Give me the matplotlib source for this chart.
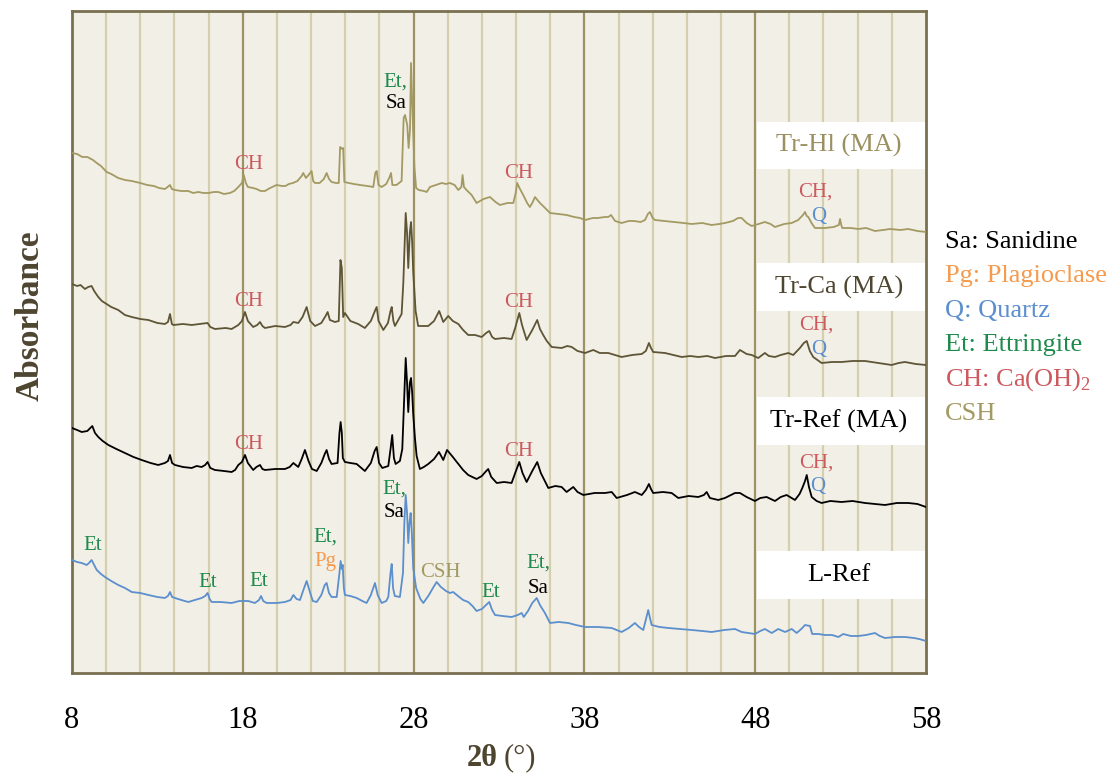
import matplotlib.pyplot as plt
from matplotlib.patches import Rectangle

plt.rcParams['font.family'] = ['Liberation Serif', 'DejaVu Serif']
plt.rcParams['mathtext.fontset'] = 'custom'
plt.rcParams['mathtext.rm'] = 'Liberation Serif'

# -- DATA: (2theta in degrees, stacked absorbance in a.u.)
hl_pts = [(8.0, 520), (8.3, 519), (8.6, 516), (8.9, 516), (9.23, 513), (9.45, 510), (9.7, 507), (10.03, 501),
          (10.3, 499), (10.71, 495), (11.1, 493), (11.5, 492), (12.0, 490), (12.4, 488), (12.8, 487),
          (13.1, 485), (13.44, 484), (13.6, 486), (13.74, 488), (13.85, 484), (14.03, 483), (14.4, 482),
          (14.8, 482), (15.1, 480), (15.39, 481), (15.7, 480), (16.0, 480), (16.3, 481), (16.57, 481),
          (16.9, 479), (17.25, 480), (17.5, 482), (17.74, 486), (17.95, 490), (18.06, 498), (18.18, 490),
          (18.3, 486), (18.6, 485), (18.8, 484), (19.05, 482), (19.3, 482), (19.6, 485), (19.98, 488),
          (20.3, 487), (20.5, 487), (20.7, 489), (20.94, 490), (21.2, 492), (21.45, 497), (21.54, 500),
          (21.7, 495), (21.85, 498), (22.03, 502), (22.12, 492), (22.23, 490), (22.5, 490), (22.75, 494),
          (22.91, 500), (23.05, 494), (23.2, 491), (23.45, 490), (23.62, 490), (23.7, 526), (23.82, 524),
          (23.88, 525), (23.95, 491), (24.2, 490), (24.5, 489), (24.86, 488), (25.3, 487), (25.64, 486),
          (25.76, 500), (25.84, 502), (25.95, 488), (26.13, 486), (26.4, 489), (26.6, 496), (26.68, 500),
          (26.76, 488), (27.0, 488), (27.3, 492), (27.42, 555), (27.5, 558), (27.63, 548), (27.71, 525),
          (27.79, 543), (27.85, 610), (27.92, 570), (27.98, 540), (28.05, 506), (28.15, 485), (28.3, 483),
          (28.6, 482), (28.77, 481), (28.96, 486), (29.3, 488), (29.65, 490), (29.9, 489), (30.13, 490),
          (30.4, 488), (30.62, 483), (30.8, 486), (30.87, 498), (30.95, 486), (31.1, 483), (31.4, 478),
          (31.69, 470), (32.1, 474), (32.47, 476), (32.8, 471), (33.06, 468), (33.5, 470), (33.84, 470),
          (33.98, 480), (34.07, 490), (34.2, 485), (34.42, 478), (34.65, 470), (34.81, 466), (34.95, 470),
          (35.11, 476), (35.25, 473), (35.4, 470), (35.7, 465), (35.99, 460), (36.5, 459), (36.96, 458),
          (37.4, 456), (37.74, 455), (38.04, 453), (38.5, 455), (38.8, 455), (39.2, 456), (39.4, 456),
          (39.56, 458), (39.8, 452), (40.18, 450), (40.6, 452), (40.9, 452), (41.3, 451), (41.55, 453),
          (41.72, 459), (41.84, 461), (42.0, 455), (42.13, 453), (42.7, 452), (43.3, 451), (43.8, 450),
          (44.28, 449), (44.9, 450), (45.45, 448), (45.9, 449), (46.23, 450), (46.7, 452), (47.0, 455),
          (47.21, 455), (47.5, 450), (47.8, 447), (48.2, 449), (48.57, 451), (48.9, 449), (49.16, 446),
          (49.7, 449), (50.14, 450), (50.52, 453), (50.8, 458), (50.92, 461), (51.02, 457), (51.11, 456),
          (51.3, 450), (51.5, 445), (52.09, 445), (52.6, 446), (52.9, 448), (52.97, 454), (53.04, 448),
          (53.1, 445), (53.6, 445), (54.04, 444), (54.5, 445), (55.01, 442), (55.5, 443), (55.9, 444),
          (56.5, 443), (56.96, 444), (57.5, 442), (58.0, 441)]

ca_pts = [(8.0, 389), (8.3, 387), (8.5, 388), (8.76, 384), (8.95, 386), (9.15, 387), (9.3, 382), (9.54, 376),
          (9.75, 372), (9.93, 370), (10.3, 366), (10.71, 363), (11.1, 358), (11.5, 356), (12.0, 354),
          (12.47, 353), (13.0, 350), (13.44, 349), (13.62, 351), (13.74, 359), (13.85, 349), (13.94, 348),
          (14.5, 349), (15.01, 348), (15.5, 349), (15.94, 350), (16.1, 346), (16.37, 344), (17.0, 345),
          (17.35, 344), (17.74, 348), (17.95, 352), (18.13, 361), (18.3, 352), (18.61, 346), (18.85, 348),
          (19.01, 351), (19.15, 347), (19.3, 345), (19.9, 347), (20.47, 346), (20.8, 348), (20.96, 351),
          (21.25, 350), (21.5, 356), (21.74, 366), (21.95, 352), (22.23, 347), (22.6, 350), (22.85, 357),
          (22.97, 361), (23.1, 353), (23.4, 351), (23.62, 352), (23.72, 413), (23.8, 405), (23.88, 356),
          (23.98, 360), (24.3, 352), (24.76, 349), (25.15, 345), (25.5, 352), (25.76, 363), (25.84, 366),
          (25.95, 352), (26.23, 343), (26.5, 350), (26.65, 362), (26.72, 366), (26.82, 352), (26.91, 347),
          (27.3, 359), (27.4, 390), (27.54, 460), (27.62, 440), (27.69, 405), (27.78, 440), (27.85, 451),
          (27.92, 430), (27.98, 401), (28.12, 362), (28.27, 347), (28.6, 347), (28.86, 347), (29.2, 352),
          (29.5, 362), (29.74, 351), (30.03, 357), (30.3, 352), (30.62, 349), (30.9, 343), (31.2, 338),
          (31.6, 338), (31.99, 336), (32.25, 340), (32.43, 342), (32.6, 336), (32.77, 334), (33.3, 335),
          (33.74, 334), (33.95, 345), (34.19, 360), (34.35, 348), (34.62, 333), (34.95, 343), (35.24, 353),
          (35.4, 344), (35.59, 338), (35.8, 332), (36.09, 326), (36.67, 325), (37.0, 327), (37.26, 326),
          (37.6, 322), (38.04, 320), (38.52, 323), (38.9, 320), (39.4, 320), (39.8, 318), (40.18, 316),
          (40.8, 318), (41.36, 319), (41.6, 322), (41.78, 330), (41.9, 325), (42.03, 321), (42.72, 320),
          (43.2, 318), (43.7, 316), (44.2, 317), (44.67, 316), (45.2, 317), (45.65, 315), (46.3, 317),
          (46.82, 317), (47.11, 323), (47.5, 319), (47.8, 318), (48.18, 315), (48.57, 320), (48.8, 317),
          (49.16, 316), (49.5, 318), (49.94, 320), (50.23, 318), (50.62, 325), (50.85, 330), (51.02, 332),
          (51.2, 322), (51.4, 316), (51.89, 310), (52.5, 311), (53.06, 311), (53.7, 312), (54.43, 312),
          (55.2, 310), (55.99, 308), (56.4, 310), (56.77, 311), (57.4, 309), (58.0, 308)]

ref_pts = [(8.0, 245), (8.3, 243), (8.57, 241), (8.9, 242), (9.19, 247), (9.35, 240), (9.54, 236), (9.8, 232),
           (10.13, 228), (10.6, 224), (11.1, 220), (11.6, 216), (12.08, 213), (12.6, 210), (13.05, 208),
           (13.44, 210), (13.62, 212), (13.74, 218), (13.86, 210), (14.03, 208), (14.5, 206), (15.01, 205),
           (15.3, 207), (15.59, 206), (15.8, 208), (15.94, 211), (16.1, 205), (16.37, 203), (16.9, 202),
           (17.35, 201), (17.55, 203), (17.74, 208), (17.95, 211), (18.13, 218), (18.3, 210), (18.61, 203),
           (18.8, 206), (19.01, 208), (19.15, 204), (19.3, 203), (19.9, 204), (20.47, 204), (20.75, 206),
           (20.96, 210), (21.25, 206), (21.45, 214), (21.64, 223), (21.85, 212), (22.05, 204), (22.33, 202),
           (22.6, 210), (22.8, 219), (22.91, 223), (23.05, 214), (23.2, 209), (23.55, 210), (23.66, 240),
           (23.73, 251), (23.8, 240), (23.86, 215), (23.98, 211), (24.3, 210), (24.67, 209), (25.15, 202),
           (25.5, 210), (25.72, 222), (25.84, 226), (25.98, 210), (26.17, 205), (26.52, 207), (26.66, 225),
           (26.75, 238), (26.85, 215), (26.95, 209), (27.2, 212), (27.34, 224), (27.44, 270), (27.54, 315),
           (27.62, 290), (27.69, 261), (27.78, 290), (27.85, 295), (27.92, 280), (27.98, 259), (28.08, 235),
           (28.18, 217), (28.37, 204), (28.6, 206), (28.86, 209), (29.2, 214), (29.49, 221), (29.74, 213),
           (29.96, 223), (30.3, 216), (30.62, 209), (30.9, 203), (31.2, 198), (31.45, 196), (31.69, 194),
           (32.0, 197), (32.2, 201), (32.37, 204), (32.55, 196), (32.87, 190), (33.3, 191), (33.74, 190),
           (33.95, 200), (34.19, 211), (34.38, 200), (34.62, 191), (34.95, 202), (35.24, 211), (35.45, 200),
           (35.89, 185), (36.3, 187), (36.67, 186), (36.96, 181), (37.35, 186), (37.6, 181), (37.94, 178),
           (38.6, 180), (39.21, 180), (39.6, 181), (39.89, 175), (40.5, 178), (40.96, 181), (41.36, 178),
           (41.6, 183), (41.78, 189), (41.9, 184), (42.03, 180), (42.6, 181), (43.11, 180), (43.5, 175),
           (44.1, 177), (44.67, 176), (45.0, 178), (45.16, 181), (45.35, 175), (45.84, 173), (46.23, 175),
           (46.82, 180), (47.11, 180), (47.5, 176), (47.99, 172), (48.3, 175), (48.67, 176), (49.16, 172),
           (49.5, 176), (49.84, 178), (50.33, 173), (50.6, 179), (50.76, 185), (50.92, 192), (51.02, 198),
           (51.15, 186), (51.31, 176), (51.6, 172), (51.89, 170), (52.4, 172), (53.06, 171), (53.7, 172),
           (54.43, 170), (55.0, 169), (55.6, 168), (56.3, 170), (56.96, 170), (57.5, 169), (58.0, 166)]

lref_pts = [(8.0, 113), (8.3, 111), (8.57, 110), (8.86, 108), (9.0, 110), (9.15, 113), (9.3, 108), (9.45, 103),
            (9.7, 99), (9.93, 96), (10.3, 92), (10.71, 88), (11.1, 85), (11.5, 81), (12.0, 80), (12.47, 78),
            (13.0, 76), (13.44, 75), (13.62, 77), (13.74, 81), (13.86, 76), (14.03, 75), (14.4, 73),
            (14.81, 71), (15.2, 73), (15.59, 75), (15.8, 77), (15.94, 80), (16.06, 74), (16.18, 71),
            (16.7, 71), (17.35, 70), (17.8, 72), (18.32, 72), (18.71, 70), (18.95, 73), (19.07, 77),
            (19.2, 72), (19.4, 70), (20.0, 70), (20.47, 71), (20.8, 73), (20.96, 78), (21.15, 74),
            (21.35, 73), (21.55, 83), (21.74, 92), (21.95, 80), (22.1, 72), (22.33, 71), (22.6, 78),
            (22.8, 88), (22.91, 90), (23.05, 80), (23.2, 76), (23.5, 76), (23.66, 100), (23.73, 112),
            (23.8, 104), (23.85, 108), (23.92, 85), (23.98, 78), (24.3, 77), (24.67, 75), (25.0, 72),
            (25.25, 70), (25.5, 78), (25.74, 90), (25.9, 78), (26.13, 70), (26.4, 72), (26.52, 76),
            (26.65, 100), (26.72, 109), (26.8, 85), (26.9, 77), (27.2, 76), (27.38, 100), (27.46, 150),
            (27.54, 178), (27.62, 160), (27.69, 130), (27.76, 150), (27.83, 160), (27.9, 140), (27.98, 105),
            (28.15, 85), (28.4, 74), (28.57, 70), (28.9, 78), (29.1, 84), (29.35, 91), (29.6, 86),
            (29.9, 82), (30.13, 80), (30.32, 81), (30.6, 77), (30.9, 73), (31.2, 71), (31.45, 67),
            (31.69, 62), (32.0, 64), (32.25, 68), (32.43, 71), (32.6, 63), (32.77, 58), (33.2, 57),
            (33.74, 56), (34.1, 58), (34.33, 60), (34.45, 56), (34.7, 62), (34.95, 70), (35.21, 75),
            (35.4, 68), (35.69, 60), (35.99, 50), (36.5, 51), (37.06, 50), (37.5, 48), (38.04, 46),
            (38.8, 46), (39.6, 45), (40.18, 41), (40.6, 45), (40.96, 50), (41.2, 46), (41.45, 43),
            (41.62, 55), (41.74, 63), (41.84, 55), (41.94, 48), (42.4, 46), (42.91, 45), (43.6, 44),
            (44.28, 43), (44.9, 42), (45.45, 41), (46.2, 43), (46.82, 44), (47.21, 41), (47.6, 40),
            (47.99, 39), (48.3, 42), (48.57, 44), (48.97, 40), (49.35, 44), (49.75, 41), (50.14, 44),
            (50.43, 40), (50.7, 44), (50.92, 48), (51.21, 47), (51.34, 39), (51.7, 39), (52.09, 38),
            (52.5, 38), (52.87, 36), (53.16, 39), (53.6, 37), (54.04, 37), (54.5, 38), (55.01, 40),
            (55.3, 37), (55.6, 35), (56.2, 36), (56.77, 36), (57.3, 35), (57.6, 34), (58.0, 32)]

series_names = ['Tr-Hl (MA)', 'Tr-Ca (MA)', 'Tr-Ref (MA)', 'L-Ref']
series_colors = ['#a39a63', '#5e5536', '#000000', '#5b8fcd']
name_colors = ['#9a9060', '#4e4630', '#000000', '#000000']

legend_lines = ['Sa: Sanidine', 'Pg: Plagioclase', 'Q: Quartz', 'Et: Ettringite',
                'CH: Ca(OH)$_2$', 'CSH']
legend_colors = ['#000000', '#f59a4e', '#5b8fcd', '#1e8a4c', '#cc5a5f', '#a39a63']

RED = '#cc5a5f'
GREEN = '#1e8a4c'
ORANGE = '#f59a4e'
BLUE = '#5b8fcd'
BLACK = '#000000'
KHAKI = '#a39a63'

# peak labels: (2theta, height, text, colour)
peak_labels = [
    (18.35, 508, 'CH', RED), (26.95, 591, 'Et,', GREEN), (26.95, 569, 'Sa', BLACK),
    (34.17, 499, 'CH', RED), (51.55, 481, 'CH,', RED), (51.7, 456, 'Q', BLUE),
    (18.35, 371, 'CH', RED), (34.17, 370, 'CH', RED), (51.6, 348, 'CH,', RED), (51.7, 323, 'Q', BLUE),
    (18.35, 228, 'CH', RED), (34.17, 221, 'CH', RED), (51.6, 210, 'CH,', RED), (51.65, 186, 'Q', BLUE),
    (9.2, 127, 'Et', GREEN), (15.96, 90, 'Et', GREEN), (18.95, 91, 'Et', GREEN),
    (22.81, 136, 'Et,', GREEN), (22.81, 111, 'Pg', ORANGE),
    (26.85, 184, 'Et,', GREEN), (26.85, 160, 'Sa', BLACK),
    (29.55, 100, 'CSH', KHAKI), (32.53, 80, 'Et', GREEN),
    (35.28, 110, 'Et,', GREEN), (35.28, 84, 'Sa', BLACK),
]

# name boxes: (bottom, top) in a.u.
box_ranges = [(504, 551), (362, 410), (228, 276), (74, 122)]

fig = plt.figure(figsize=(11.14, 7.74), dpi=100)
ax = fig.add_axes([0.0646, 0.1305, 0.7666, 0.8553])
ax.set_facecolor('#f2efe6')

for g in range(10, 58, 2):
    if g in (18, 28, 38, 48):
        ax.axvline(g, color='#9c9264', lw=1.6, zorder=1)
    else:
        ax.axvline(g, color='#d6cfae', lw=1.6, zorder=1)

for (b, t), name, col in zip(box_ranges, series_names, name_colors):
    ax.add_patch(Rectangle((48.1, b), 58 - 48.1, t - b, facecolor='white', edgecolor='none', zorder=2))
    ax.text(52.9, (b + t) / 2, name, color=col, fontsize=19, ha='center', va='center', zorder=3)

traces = [hl_pts, ca_pts, ref_pts, lref_pts]
for pts, col in zip(traces, series_colors):
    xs, ys = zip(*pts)
    ax.plot(xs, ys, color=col, lw=1.3, zorder=3)

for x, y, s, c in peak_labels:
    ax.text(x, y, s, color=c, fontsize=15, ha='center', va='center', zorder=4)

ax.set_xlim(8, 58)
ax.set_ylim(0, 662)
ax.set_xticks(range(8, 59, 10))
ax.set_yticks([])
ax.tick_params(axis='x', length=0, pad=24, labelsize=22)
for sp in ax.spines.values():
    sp.set_color('#7a7050')
    sp.set_linewidth(2)

fig.text(30 / 1114, 1 - 316 / 774, 'Absorbance', rotation=90, fontsize=24, fontweight='bold',
         color='#4d4530', ha='center', va='center')
fig.text(498 / 1114, 1 - 758 / 774, '2θ', fontsize=22, fontweight='bold', color='#4d4530',
         ha='right', va='center')
fig.text(504 / 1114, 1 - 758 / 774, '(°)', fontsize=22, color='#4d4530', ha='left', va='center')

for i, (s, c) in enumerate(zip(legend_lines, legend_colors)):
    fig.text(945 / 1114, 1 - (242 + i * 34.3) / 774, s, color=c, fontsize=19, ha='left', va='center')

fig.savefig('out.png', dpi=100)
